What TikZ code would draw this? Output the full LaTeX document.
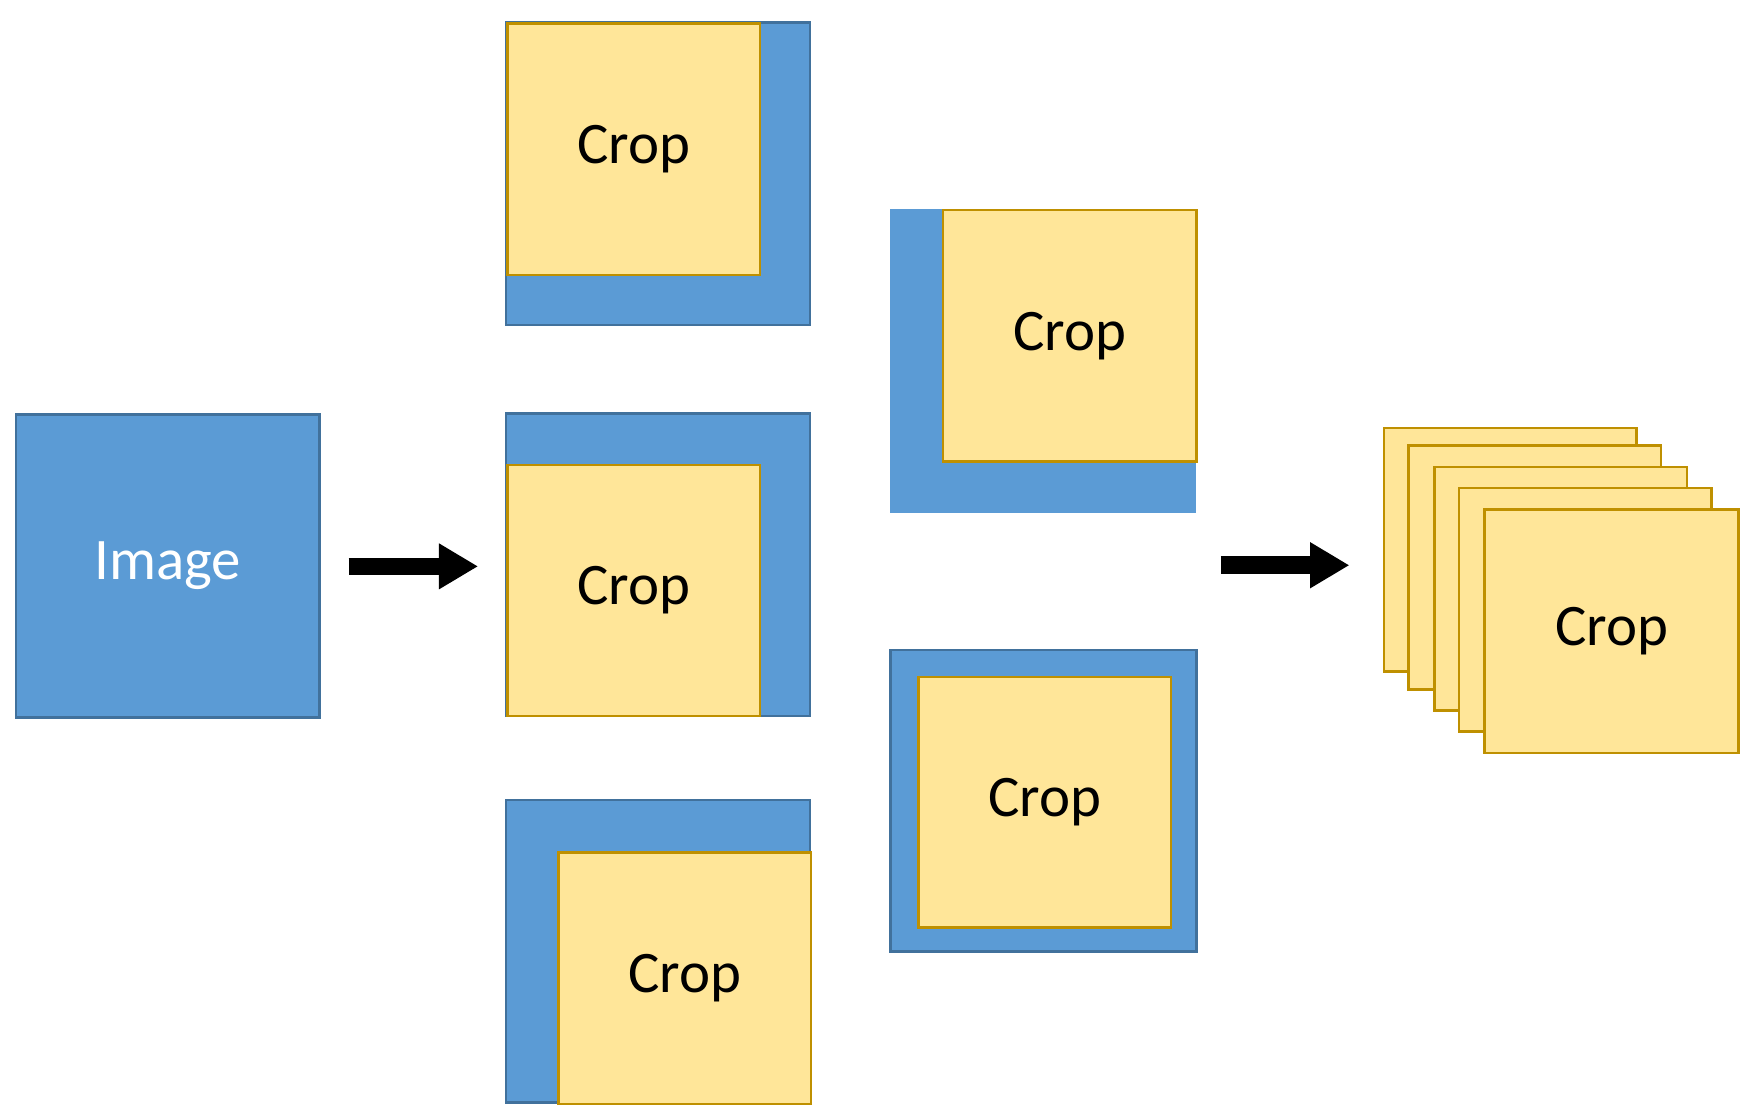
\documentclass[tikz,border=0pt]{standalone}
\usepackage{fontspec}
\setmainfont{Carlito}
\usetikzlibrary{arrows.meta}
\definecolor{bl}{HTML}{5B9BD5}
\definecolor{blb}{HTML}{41719C}
\definecolor{ye}{HTML}{FFE699}
\definecolor{yeb}{HTML}{BF9000}
\begin{document}
\begin{tikzpicture}[x=0.02cm,y=-0.02cm,
 blue/.style={fill=bl,draw=blb,line width=1.3pt},
 yel/.style={fill=ye,draw=yeb,line width=1.3pt},
 lab/.style={font=\fontsize{30}{36}\selectfont},
 arr/.style={line width=9pt,-{Triangle[length=20pt,width=22pt]}}]
\useasboundingbox (0,0) rectangle (1563,1000);
\node[blue,minimum width=272*0.02cm,minimum height=271*0.02cm,anchor=north west,inner sep=0,text=white,lab] (img) at (13,370) {Image};
% top crop
\draw[blue] (453,20) rectangle (725,291);
\node[yel,minimum width=226*0.02cm,minimum height=225*0.02cm,anchor=north west,inner sep=0,lab] (c1) at (453,20) {Crop};
% middle
\draw[blue] (453,370) rectangle (725,641);
\node[yel,minimum width=226*0.02cm,minimum height=225*0.02cm,anchor=north west,inner sep=0,lab] (c2) at (453,415) {Crop};
% bottom
\draw[blue] (453,716) rectangle (725,987);
\node[yel,minimum width=226*0.02cm,minimum height=225*0.02cm,anchor=north west,inner sep=0,lab] (c3) at (499,762) {Crop};
% right top
\fill[bl] (797,187) rectangle (1071,459);
\node[yel,minimum width=227*0.02cm,minimum height=225*0.02cm,anchor=north west,inner sep=0,lab] (c4) at (843,187) {Crop};
% right bottom
\draw[blue] (797,582) rectangle (1071,852);
\node[yel,minimum width=226*0.02cm,minimum height=224*0.02cm,anchor=north west,inner sep=0,lab] (c5) at (821,605) {Crop};
% stack
\foreach \x/\y in {1239/383,1261/399,1284/418,1306/437}
  \draw[yel] (\x,\y) rectangle ++(226,218);
\node[yel,minimum width=227*0.02cm,minimum height=218*0.02cm,anchor=north west,inner sep=0,lab] (c6) at (1328,455) {Crop};
% arrows
\coordinate (a1s) at (312,507); \coordinate (a1e) at (428,507);
\coordinate (a2s) at (1093,506); \coordinate (a2e) at (1208,506);
\draw[arr] (a1s) -- (a1e);
\draw[arr] (a2s) -- (a2e);
\end{tikzpicture}
\end{document}
